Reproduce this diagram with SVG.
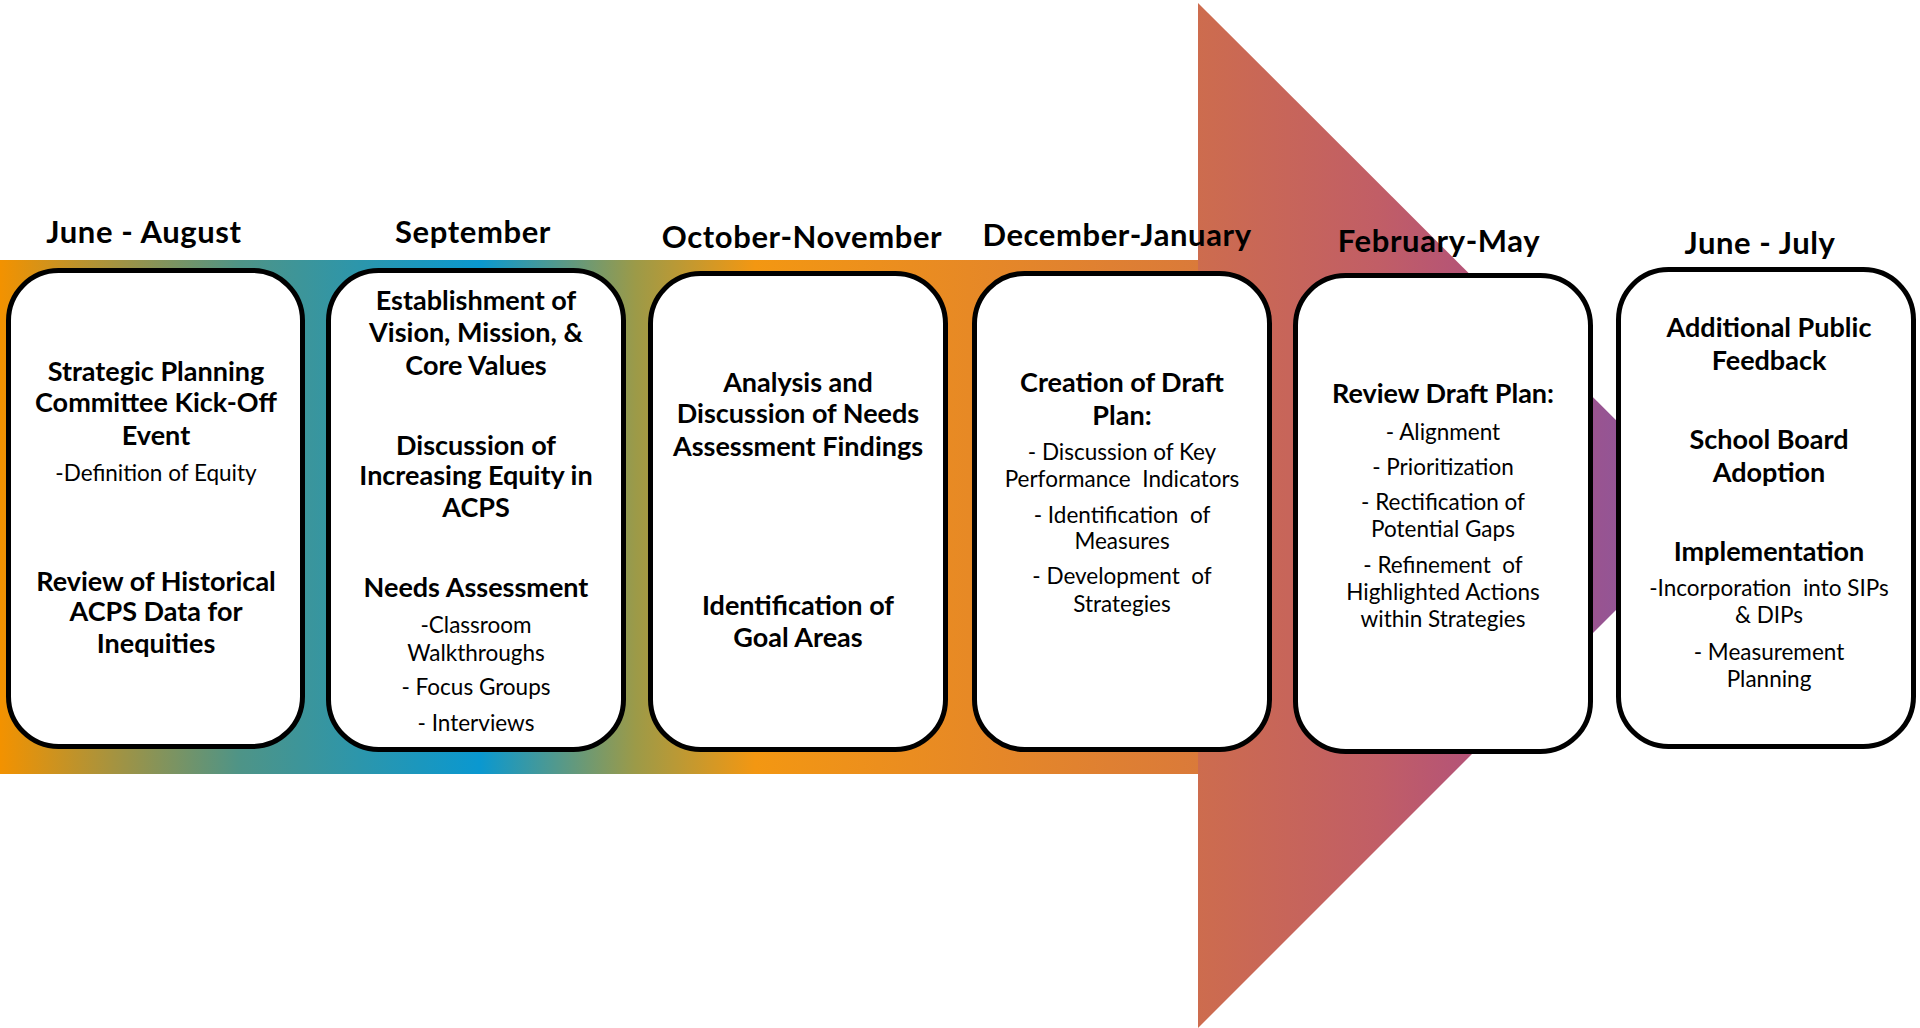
<svg xmlns="http://www.w3.org/2000/svg" width="1920" height="1028" viewBox="0 0 1920 1028">
  <defs>
    <!-- colour run along the shaft of the timeline arrow -->
    <linearGradient id="shaftGrad" gradientUnits="userSpaceOnUse" x1="0" y1="0" x2="1199" y2="0">
      <stop offset="0" stop-color="#F39200"/>
      <stop offset="0.2" stop-color="#4E9487"/>
      <stop offset="0.4" stop-color="#0A98D0"/>
      <stop offset="0.53" stop-color="#9C9A48"/>
      <stop offset="0.63" stop-color="#F39712"/>
      <stop offset="1" stop-color="#DA7A3A"/>
    </linearGradient>
    <!-- colour run across the arrow head -->
    <linearGradient id="headGrad" gradientUnits="userSpaceOnUse" x1="1198" y1="0" x2="1711" y2="0">
      <stop offset="0" stop-color="#CD6C4E"/>
      <stop offset="0.35" stop-color="#C15E66"/>
      <stop offset="0.6" stop-color="#AF4F7E"/>
      <stop offset="1" stop-color="#7C5AA8"/>
    </linearGradient>
    <style>
      .box { fill: #FFFFFF; stroke: #000000; stroke-width: 5; }
      .phase { font-family: Lato, "Open Sans", sans-serif; font-weight: 700; font-size: 31px; letter-spacing: 0.6px; fill: #000; text-anchor: middle; }
      .hd { font-family: Lato, "Open Sans", sans-serif; font-weight: 700; font-size: 27px; fill: #000; text-anchor: middle; }
      .sub { font-family: Lato, "Open Sans", sans-serif; font-weight: 400; font-size: 22.5px; fill: #000; text-anchor: middle; }
    </style>
  </defs>

  <rect width="1920" height="1028" fill="#FFFFFF"/>

  <!-- timeline arrow behind the phase boxes -->
  <g id="arrow">
    <rect x="0" y="260" width="1199" height="514" fill="url(#shaftGrad)"/>
    <polygon points="1198,3 1711,515 1198,1028" fill="url(#headGrad)"/>
  </g>

  <!-- phase titles -->
  <g id="phase-titles">
    <text class="phase" x="144" y="243">June - August</text>
    <text class="phase" x="473" y="243">September</text>
    <text class="phase" x="802" y="248">October-November</text>
    <text class="phase" x="1117" y="246">December-January</text>
    <text class="phase" x="1439" y="252">February-May</text>
    <text class="phase" x="1760" y="254">June - July</text>
  </g>

  <g id="node-june-august">
    <rect class="box" x="8.5" y="270.5" width="294" height="476" rx="50"/>
    <text class="hd" x="156" y="381">Strategic Planning</text>
    <text class="hd" x="156" y="412">Committee Kick-Off</text>
    <text class="hd" x="156" y="445">Event</text>
    <text class="sub" x="156" y="481">-Definition of Equity</text>
    <text class="hd" x="156" y="591">Review of Historical</text>
    <text class="hd" x="156" y="621">ACPS Data for</text>
    <text class="hd" x="156" y="653">Inequities</text>
  </g>

  <g id="node-september">
    <rect class="box" x="328.5" y="270.5" width="295" height="479" rx="50"/>
    <text class="hd" x="476" y="310">Establishment of</text>
    <text class="hd" x="476" y="342">Vision, Mission, &amp;</text>
    <text class="hd" x="476" y="375">Core Values</text>
    <text class="hd" x="476" y="455">Discussion of</text>
    <text class="hd" x="476" y="485">Increasing Equity in</text>
    <text class="hd" x="476" y="517">ACPS</text>
    <text class="hd" x="476" y="597">Needs Assessment</text>
    <text class="sub" x="476" y="633">-Classroom</text>
    <text class="sub" x="476" y="661">Walkthroughs</text>
    <text class="sub" x="476" y="695">- Focus Groups</text>
    <text class="sub" x="476" y="731">- Interviews</text>
  </g>

  <g id="node-october-november">
    <rect class="box" x="650.5" y="273.5" width="295" height="476" rx="50"/>
    <text class="hd" x="798" y="392">Analysis and</text>
    <text class="hd" x="798" y="423">Discussion of Needs</text>
    <text class="hd" x="798" y="456">Assessment Findings</text>
    <text class="hd" x="798" y="615">Identification of</text>
    <text class="hd" x="798" y="647">Goal Areas</text>
  </g>

  <g id="node-december-january">
    <rect class="box" x="974.5" y="273.5" width="295" height="476" rx="50"/>
    <text class="hd" x="1122" y="392">Creation of Draft</text>
    <text class="hd" x="1122" y="425">Plan:</text>
    <text class="sub" x="1122" y="460">- Discussion of Key</text>
    <text class="sub" x="1122" y="487" xml:space="preserve">Performance  Indicators</text>
    <text class="sub" x="1122" y="523" xml:space="preserve">- Identification  of</text>
    <text class="sub" x="1122" y="549">Measures</text>
    <text class="sub" x="1122" y="584" xml:space="preserve">- Development  of</text>
    <text class="sub" x="1122" y="612">Strategies</text>
  </g>

  <g id="node-february-may">
    <rect class="box" x="1295.5" y="275.5" width="295" height="476" rx="50"/>
    <text class="hd" x="1443" y="403">Review Draft Plan:</text>
    <text class="sub" x="1443" y="440">- Alignment</text>
    <text class="sub" x="1443" y="475">- Prioritization</text>
    <text class="sub" x="1443" y="510">- Rectification of</text>
    <text class="sub" x="1443" y="537">Potential Gaps</text>
    <text class="sub" x="1443" y="573" xml:space="preserve">- Refinement  of</text>
    <text class="sub" x="1443" y="600">Highlighted Actions</text>
    <text class="sub" x="1443" y="627">within Strategies</text>
  </g>

  <g id="node-june-july">
    <rect class="box" x="1618.5" y="269.5" width="295" height="477" rx="50"/>
    <text class="hd" x="1769" y="337">Additional Public</text>
    <text class="hd" x="1769" y="370">Feedback</text>
    <text class="hd" x="1769" y="449">School Board</text>
    <text class="hd" x="1769" y="482">Adoption</text>
    <text class="hd" x="1769" y="561">Implementation</text>
    <text class="sub" x="1769" y="596" xml:space="preserve">-Incorporation  into SIPs</text>
    <text class="sub" x="1769" y="623">&amp; DIPs</text>
    <text class="sub" x="1769" y="660">- Measurement</text>
    <text class="sub" x="1769" y="687">Planning</text>
  </g>

  <!-- no connectors: the arrow above carries the flow -->
  <g id="connectors"/>
</svg>
